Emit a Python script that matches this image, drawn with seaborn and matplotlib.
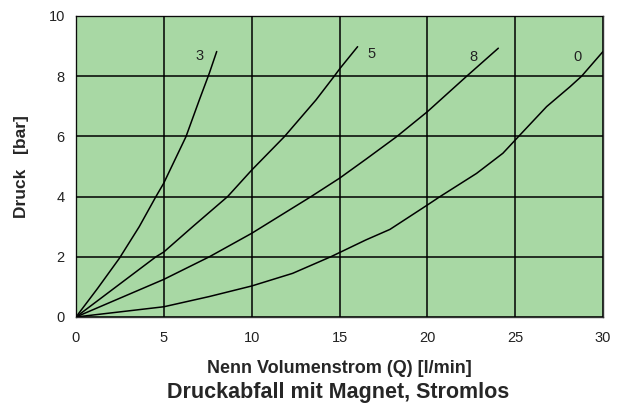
import pandas as pd
import matplotlib
matplotlib.use("Agg")
import matplotlib.pyplot as plt
import seaborn as sns

# curves (Q in l/min, pressure in bar)
q_3 = [0, 1.23, 2.47, 3.6, 4.55, 4.99, 6.26, 7.02, 7.59, 8.01]
p_3 = [0, 0.95, 1.95, 3.0, 4.0, 4.44, 5.99, 7.21, 8.1, 8.82]

q_5 = [0, 4.55, 5.0, 6.64, 8.63, 10.0, 11.86, 13.66, 14.7, 15.03, 16.03]
p_5 = [0, 2.0, 2.16, 3.0, 4.0, 4.88, 5.99, 7.21, 8.0, 8.26, 8.98]

q_8 = [0, 5.0, 7.59, 10.0, 13.38, 15.0, 16.5, 18.25, 20.0, 22.24, 24.04]
p_8 = [0, 1.25, 2.0, 2.78, 4.0, 4.61, 5.24, 5.99, 6.82, 8.0, 8.93]

q_0 = [0, 5.0, 7.59, 10.0, 12.33, 14.5, 16.5, 17.87, 20.0, 20.72, 22.8, 24.3,
       25.18, 26.79, 28.12, 28.78, 30.0]
p_0 = [0, 0.34, 0.68, 1.03, 1.45, 2.0, 2.56, 2.91, 3.72, 4.0, 4.77, 5.44,
       5.99, 6.99, 7.65, 8.0, 8.82]

curve_names = ["3", "5", "8", "0"]
label_x = [7.06, 16.85, 22.6, 28.57]
label_y = [8.67, 8.74, 8.64, 8.64]

rows = []
for name, qs, ps in zip(curve_names, [q_3, q_5, q_8, q_0], [p_3, p_5, p_8, p_0]):
    for q, p in zip(qs, ps):
        rows.append({"Q": q, "p": p, "curve": name})
df = pd.DataFrame(rows)

sns.set_style("white")
plt.rcParams['font.family'] = ['Liberation Sans', 'DejaVu Sans']

fig = plt.figure(figsize=(6.29, 4.03), dpi=100)
ax = fig.add_axes([0.1208, 0.2134, 0.8379, 0.7469])
ax.set_facecolor("#a8d8a4")

sns.lineplot(data=df, x="Q", y="p", hue="curve", palette=["black"] * 4,
             linewidth=1.1, legend=False, sort=False, ax=ax)

for name, lx, ly in zip(curve_names, label_x, label_y):
    ax.text(lx, ly, name, fontsize=10.5, color="#222222", ha="center", va="center")

ax.set_xlim(0, 30)
ax.set_ylim(0, 10)
ax.set_xticks(range(0, 31, 5))
ax.set_yticks(range(0, 11, 2))
ax.grid(True, color="black", linewidth=1.1)
ax.set_axisbelow(False)
ax.tick_params(length=0, labelsize=10.5, colors="#222222")
ax.tick_params(axis="x", pad=10)
ax.tick_params(axis="y", pad=8)
for s in ax.spines.values():
    s.set_color("#333333")
    s.set_linewidth(1.0)

ax.set_xlabel("Nenn Volumenstrom (Q) [l/min]", fontsize=13, fontweight="bold", labelpad=11)
ax.set_ylabel("Druck   [bar]", fontsize=12.5, fontweight="bold", labelpad=14)
fig.text(0.537, 0.012, "Druckabfall mit Magnet, Stromlos", fontsize=15.5, fontweight="bold", ha="center")

fig.savefig("out.png", dpi=100)
